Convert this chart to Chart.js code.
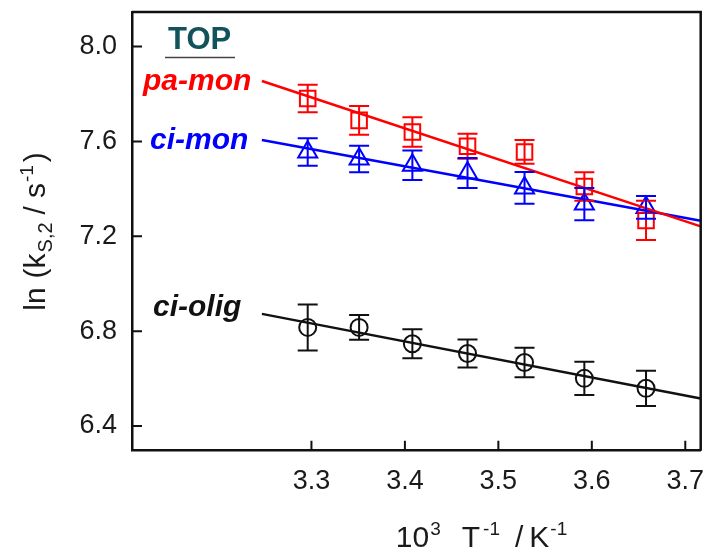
<!DOCTYPE html>
<html><head><meta charset="utf-8">
<script src="https://cdn.jsdelivr.net/npm/chart.js@4/dist/chart.umd.min.js"></script>
<style>html,body{margin:0;padding:0;background:#fff;} canvas{display:block;}</style>
</head><body>
<canvas id="c" width="708" height="554"></canvas>
<script>
// ---- data ----
const invT = [3.296, 3.351, 3.408, 3.467, 3.528, 3.592, 3.658];
const paMon = [7.781, 7.689, 7.640, 7.580, 7.556, 7.410, 7.267];
const paMonErr = [0.058, 0.061, 0.062, 0.053, 0.050, 0.060, 0.083];
const ciMon = [7.556, 7.526, 7.500, 7.467, 7.404, 7.336, 7.322];
const ciMonErr = [0.058, 0.056, 0.062, 0.063, 0.067, 0.068, 0.048];
const ciOlig = [6.816, 6.816, 6.747, 6.706, 6.668, 6.601, 6.559];
const ciOligErr = [0.097, 0.052, 0.061, 0.059, 0.062, 0.070, 0.074];
const fitX = [3.247, 3.7165];
const paMonFit = [7.855, 7.242];
const ciMonFit = [7.606, 7.266];
const ciOligFit = [6.873, 6.516];
const xTicks = [3.3, 3.4, 3.5, 3.6, 3.7];
const yTicks = [6.4, 6.8, 7.2, 7.6, 8.0];
const seriesLabels = ['pa-mon', 'ci-mon', 'ci-olig'];

const FONT = '"Liberation Sans", Arial, sans-serif';
const RED = '#ff0000', BLUE = '#0000ff', BLACK = '#111111';

function pts(xs, ys) { return xs.map((x, i) => ({x: x, y: ys[i]})); }

const errSets = [
  {ys: paMon, es: paMonErr, color: RED},
  {ys: ciMon, es: ciMonErr, color: BLUE},
  {ys: ciOlig, es: ciOligErr, color: BLACK}
];

function drawRich(ctx, pieces, cx, baseY) {
  let total = 0;
  pieces.forEach(p => {
    ctx.font = (p.style || '') + ' ' + p.size + 'px ' + FONT;
    p.w = ctx.measureText(p.t).width;
    total += (p.gap || 0) + p.w;
  });
  let x = cx - total / 2;
  ctx.textAlign = 'left';
  ctx.textBaseline = 'alphabetic';
  pieces.forEach(p => {
    x += (p.gap || 0);
    ctx.font = (p.style || '') + ' ' + p.size + 'px ' + FONT;
    ctx.fillText(p.t, x, baseY + (p.dy || 0));
    x += p.w;
  });
}

const decor = {
  id: 'decor',
  afterDatasetsDraw(chart) {
    const ctx = chart.ctx, xs = chart.scales.x, ys = chart.scales.y;
    ctx.save();
    errSets.forEach(s => {
      ctx.strokeStyle = s.color; ctx.lineWidth = 2;
      invT.forEach((xv, i) => {
        const px = xs.getPixelForValue(xv);
        const t = ys.getPixelForValue(s.ys[i] + s.es[i]);
        const b = ys.getPixelForValue(s.ys[i] - s.es[i]);
        ctx.beginPath();
        ctx.moveTo(px, t); ctx.lineTo(px, b);
        ctx.moveTo(px - 10, t); ctx.lineTo(px + 10, t);
        ctx.moveTo(px - 10, b); ctx.lineTo(px + 10, b);
        ctx.stroke();
      });
    });
    ctx.restore();
  },
  afterDraw(chart) {
    const ctx = chart.ctx, xs = chart.scales.x, ys = chart.scales.y, a = chart.chartArea;
    ctx.save();
    ctx.strokeStyle = '#111'; ctx.lineWidth = 2.5;
    ctx.beginPath();
    ctx.moveTo(a.left, a.top); ctx.lineTo(a.right, a.top); ctx.lineTo(a.right, a.bottom);
    ctx.stroke();
    ctx.lineWidth = 2;
    ctx.beginPath();
    xTicks.forEach(v => { const p = xs.getPixelForValue(v); ctx.moveTo(p, a.bottom); ctx.lineTo(p, a.bottom - 10); });
    yTicks.forEach(v => { const p = ys.getPixelForValue(v); ctx.moveTo(a.left, p); ctx.lineTo(a.left + 10, p); });
    ctx.stroke();
    ctx.fillStyle = '#12525b';
    ctx.font = 'bold 31px ' + FONT;
    ctx.textAlign = 'left'; ctx.textBaseline = 'alphabetic';
    ctx.fillText('TOP', 168, 49);
    ctx.strokeStyle = '#444'; ctx.lineWidth = 1.5;
    ctx.beginPath(); ctx.moveTo(165, 57.5); ctx.lineTo(235, 57.5); ctx.stroke();
    ctx.font = 'italic bold 30px ' + FONT;
    ctx.fillStyle = RED; ctx.fillText(seriesLabels[0], 143, 89.5);
    ctx.fillStyle = BLUE; ctx.fillText(seriesLabels[1], 150, 148.5);
    ctx.fillStyle = BLACK; ctx.fillText(seriesLabels[2], 153, 316);
    ctx.fillStyle = '#1a1a1a';
    drawRich(ctx, [
      {t: '10', size: 30}, {t: '3', size: 19, dy: -12, gap: 1},
      {t: 'T', size: 30, gap: 21}, {t: '-1', size: 19, dy: -12, gap: 3},
      {t: '/', size: 30, gap: 15}, {t: 'K', size: 30, gap: 6},
      {t: '-1', size: 19, dy: -12, gap: 1}
    ], 481.5, 547);
    ctx.save();
    ctx.translate(45, 231.5);
    ctx.rotate(-Math.PI / 2);
    drawRich(ctx, [
      {t: 'ln', size: 30}, {t: '(', size: 30, gap: 9}, {t: 'k', size: 30},
      {t: 'S,2', size: 20, dy: 7, gap: 1}, {t: '/', size: 30, gap: 8},
      {t: 's', size: 30, gap: 8}, {t: '-1', size: 19, dy: -12, gap: 1},
      {t: ')', size: 30, gap: 3}
    ], 0, 0);
    ctx.restore();
    ctx.restore();
  }
};

new Chart(document.getElementById('c'), {
  type: 'scatter',
  data: {
    datasets: [
      {label: 'pa-mon fit', type: 'line', data: pts(fitX, paMonFit), borderColor: RED, borderWidth: 2.5, pointRadius: 0, fill: false},
      {label: 'ci-mon fit', type: 'line', data: pts(fitX, ciMonFit), borderColor: BLUE, borderWidth: 2.5, pointRadius: 0, fill: false},
      {label: 'ci-olig fit', type: 'line', data: pts(fitX, ciOligFit), borderColor: BLACK, borderWidth: 2.5, pointRadius: 0, fill: false},
      {label: seriesLabels[0], data: pts(invT, paMon), pointStyle: 'rect', pointRadius: 11, borderColor: RED, backgroundColor: 'rgba(0,0,0,0)', borderWidth: 2},
      {label: seriesLabels[1], data: pts(invT, ciMon), pointStyle: 'triangle', pointRadius: 11, borderColor: BLUE, backgroundColor: 'rgba(0,0,0,0)', borderWidth: 2},
      {label: seriesLabels[2], data: pts(invT, ciOlig), pointStyle: 'circle', pointRadius: 8.5, borderColor: BLACK, backgroundColor: 'rgba(0,0,0,0)', borderWidth: 2}
    ]
  },
  options: {
    responsive: false,
    animation: false,
    devicePixelRatio: 1,
    layout: {autoPadding: false, padding: {top: 12, right: 7.3, left: 0, bottom: 0}},
    plugins: {legend: {display: false}, tooltip: {enabled: false}},
    scales: {
      x: {
        type: 'linear', min: 3.108, max: 3.7165,
        afterBuildTicks: s => { s.ticks = xTicks.map(v => ({value: v})); },
        afterFit: s => { s.height = 103.3; s.paddingLeft = 0; s.paddingRight = 0; },
        grid: {display: false, drawTicks: false},
        border: {display: true, color: '#111', width: 2.5},
        ticks: {font: {family: FONT, size: 27}, color: '#1a1a1a', padding: 15, maxRotation: 0, autoSkip: false, callback: v => Number(v).toFixed(1)}
      },
      y: {
        type: 'linear', min: 6.296, max: 8.146,
        afterBuildTicks: s => { s.ticks = yTicks.map(v => ({value: v})); },
        afterFit: s => { s.width = 132; s.paddingTop = 0; s.paddingBottom = 0; },
        grid: {display: false, drawTicks: false},
        border: {display: true, color: '#111', width: 2.5},
        ticks: {font: {family: FONT, size: 27}, color: '#1a1a1a', padding: 15, autoSkip: false, callback: v => Number(v).toFixed(1)}
      }
    }
  },
  plugins: [decor]
});
</script>
</body></html>
